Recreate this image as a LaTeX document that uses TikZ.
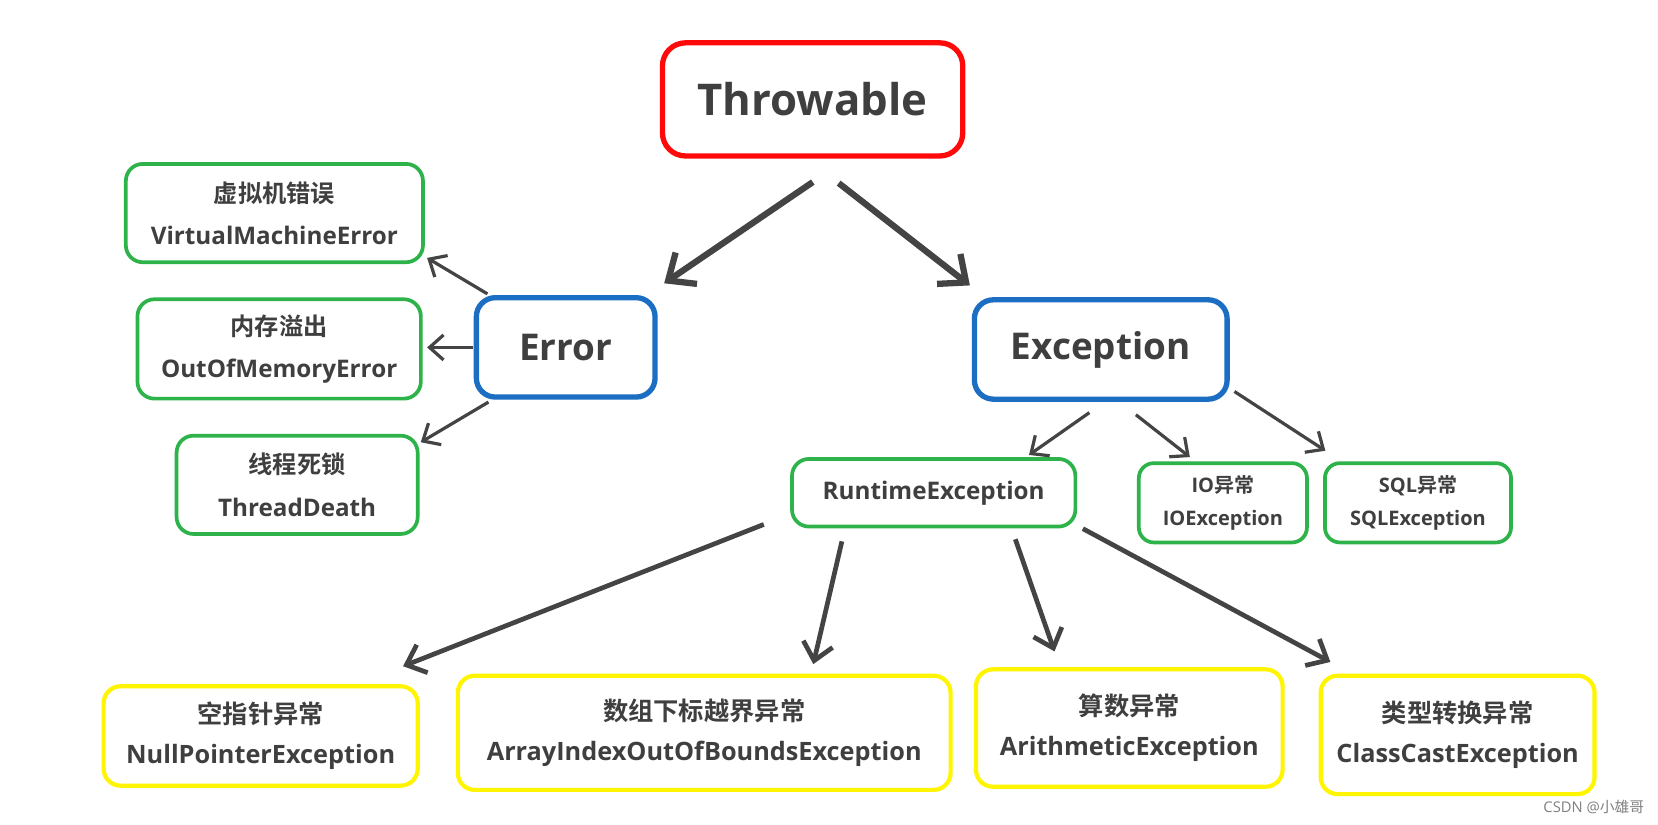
\documentclass[tikz,border=0pt]{standalone}
\usepackage{fontspec}
\setmainfont{Open Sans}
\newfontfamily\cjk{Noto Sans CJK SC}[BoldFont={Noto Sans CJK SC Bold}]
\usetikzlibrary{arrows.meta,calc}
\definecolor{txt}{HTML}{3F3F3F}
\definecolor{arrc}{HTML}{444444}
\definecolor{cred}{HTML}{FF0A0A}
\definecolor{cblue}{HTML}{1B6EC2}
\definecolor{cgreen}{HTML}{2DB34A}
\definecolor{cyellow}{HTML}{FFF500}
\tikzset{
  box/.style={rounded corners=17bp, align=center, text=txt, font=\bfseries, inner sep=0pt},
  redbox/.style={box, draw=cred, line width=5.3bp, rounded corners=23bp, font=\fontsize{41.5}{46}\bfseries\selectfont},
  bluebox/.style={box, draw=cblue, line width=5.3bp, rounded corners=19bp, font=\fontsize{35}{40}\bfseries\selectfont},
  greenbox/.style={box, draw=cgreen, line width=3.7bp, font=\fontsize{23}{40}\bfseries\selectfont},
  smallbox/.style={box, draw=cgreen, line width=3.7bp, rounded corners=15bp, font=\fontsize{19}{32}\bfseries\selectfont},
  yellowbox/.style={box, draw=cyellow, line width=4.2bp, font=\fontsize{24}{38}\bfseries\selectfont},
  bigarr/.style={draw=arrc, line width=6.3bp, -{Straight Barb[length=22bp,width=38bp]}},
  midarr/.style={draw=arrc, line width=4.7bp, -{Straight Barb[length=17bp,width=30bp]}},
  smallarr/.style={draw=arrc, line width=3.2bp, -{Straight Barb[length=14bp,width=25bp]}},
}
\begin{document}
\begin{tikzpicture}[x=1bp,y=-1bp,scale=1.0574,transform shape]
\useasboundingbox[fill=white] (0,0) rectangle (1568,779.3);

\node[redbox, minimum width=284bp, minimum height=107bp] (thr) at (768.5,94) {Throwable};
\node[bluebox, minimum width=169bp, minimum height=94bp] (err) at (535,328.5) {Error};
\node[bluebox, minimum width=239bp, minimum height=94bp] (exc) at (1041,330.5) {Exception};

\node[greenbox, minimum width=281bp, minimum height=93bp] (vme) at (259.5,201.5) {{\cjk 虚拟机错误}\\VirtualMachineError};
\node[greenbox, minimum width=268bp, minimum height=94bp] (oom) at (264,330) {{\cjk 内存溢出}\\OutOfMemoryError};
\node[greenbox, minimum width=228bp, minimum height=93bp] (td) at (281,458.5) {{\cjk 线程死锁}\\ThreadDeath};

\node[greenbox, minimum width=268bp, minimum height=64bp] (rt) at (883,466) {RuntimeException};
\node[smallbox, minimum width=159bp, minimum height=75bp] (io) at (1156.5,475.5) {IO{\cjk 异常}\\IOException};
\node[smallbox, minimum width=176bp, minimum height=75bp] (sql) at (1341,475.5) {SQL{\cjk 异常}\\SQLException};

\node[yellowbox, minimum width=297bp, minimum height=94bp] (npe) at (246.5,696) {{\cjk 空指针异常}\\NullPointerException};
\node[yellowbox, minimum width=466bp, minimum height=108bp] (aio) at (666,693) {{\cjk 数组下标越界异常}\\ArrayIndexOutOfBoundsException};
\node[yellowbox, minimum width=290bp, minimum height=111bp] (ari) at (1068,688.5) {{\cjk 算数异常}\\ArithmeticException};
\node[yellowbox, minimum width=259bp, minimum height=112bp] (cce) at (1378.5,695) {{\cjk 类型转换异常}\\ClassCastException};

\node[text=gray, font=\fontsize{14}{16}\selectfont, anchor=east, inner sep=0pt] (wm) at (1555,763) {CSDN @{\cjk 小雄哥}};

\draw[bigarr] ($(thr.south)+(0,22)$) -- ($(err.north)+(93,-11)$);
\draw[bigarr] ($(thr.south)+(24.5,23)$) -- ($(exc.north)+(-124,-11)$);

\draw[smallarr] ($(err.north west)+(13,-1)$) -- ($(vme.south east)+(2,-6)$);
\draw[smallarr] ($(err.west)+(-1,0)$) -- ($(oom.east |- err.west)+(4,0)$);
\draw[smallarr] ($(err.south west)+(14,2)$) -- ($(td.north east)+(1,8)$);

\draw[smallarr] ($(exc.south)+(-11,10)$) -- ($(rt.north)+(90,-2)$);
\draw[smallarr] ($(exc.south)+(33,12)$) -- ($(io.north)+(-31.5,-4)$);
\draw[smallarr] ($(exc.south east)+(4,-10)$) -- ($(sql.north west)+(2,-10)$);

\draw[midarr] ($(rt.south west)+(-25,-4)$) -- ($(npe.north east)+(-16,-17)$);
\draw[midarr] ($(rt.south)+(-87,12)$) -- ($(aio.north)+(103,-9)$);
\draw[midarr] ($(rt.south)+(77,10)$) -- ($(ari.north)+(-71,-15)$);
\draw[midarr] ($(rt.south east)+(5,0)$) -- ($(cce.north west)+(11,-11)$);
\end{tikzpicture}
\end{document}
